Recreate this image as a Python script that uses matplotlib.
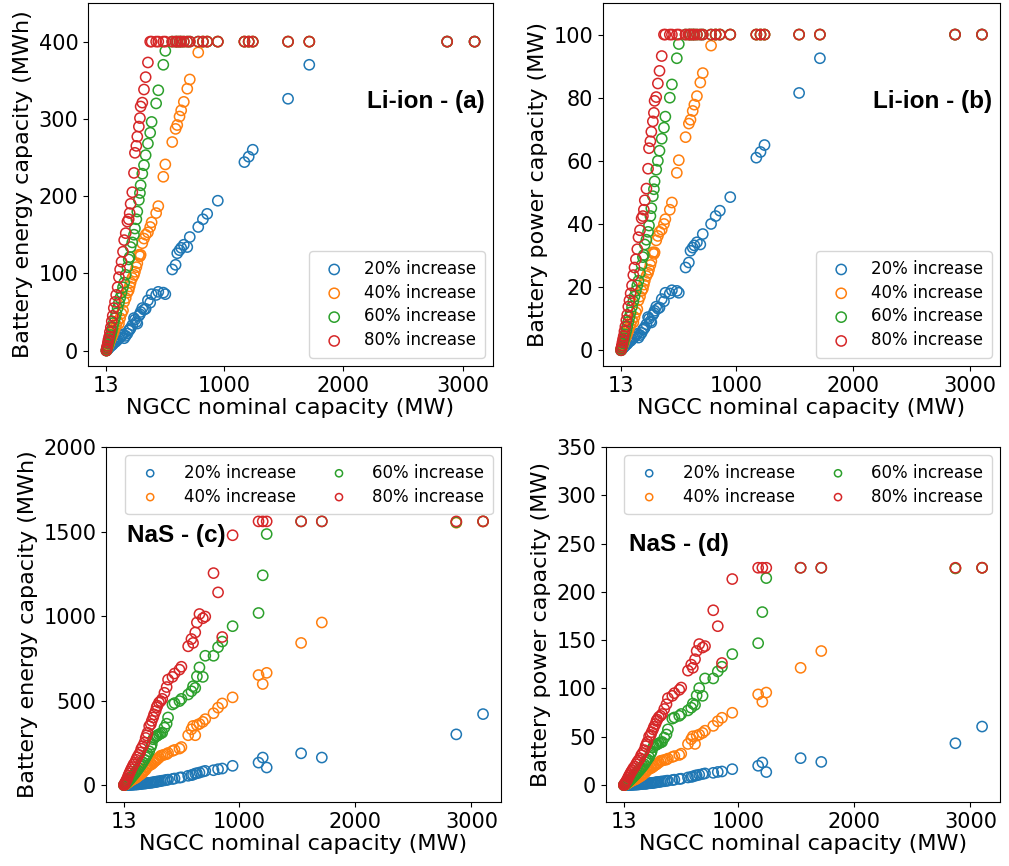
import matplotlib
matplotlib.use("Agg")
import matplotlib.pyplot as plt

# NGCC nominal capacity (MW) shared by all series
ngcc = [13, 16, 20, 25, 30, 36, 42, 50, 58, 66,
        75, 85, 95, 107, 118, 128, 140, 152, 162, 175,
        189, 200, 208, 216, 230, 244, 252, 264, 272, 285,
        294, 300, 314, 328, 342, 361, 380, 392, 430, 448,
        490, 507, 565, 593, 607, 626, 640, 662, 691, 712,
        783, 822, 858, 947, 1170, 1206, 1240, 1536, 1714, 2870,
        3100]

labels = ["20% increase", "40% increase", "60% increase", "80% increase"]
colors = ["#1f77b4", "#ff7f0e", "#2ca02c", "#d62728"]

# (a) Li-ion energy (MWh)
li_e_20 = [0, 1, 1, 2, 3, 4, 5, 6, 7, 8,
           10, 11, 12, 14, 16, 17, 19, 21, 16, 19,
           22, 26, 27, 29, 33, 42, 40, 37, 35, 45,
           47, 50, 55, 53, 54, 65, 62, 73, 72, 76,
           75, 73, 105, 111, 126, 130, 133, 137, 134, 147,
           160, 170, 177, 194, 244, 251, 260, 326, 370, 400,
           400]
li_e_40 = [0, 2, 3, 5, 7, 9, 12, 15, 18, 21,
           25, 29, 33, 38, 35, 42, 48, 52, 63, 68,
           75, 78, 83, 88, 94, 98, 102, 108, 113, 124,
           122, 124, 139, 145, 150, 153, 160, 166, 178, 187,
           225, 241, 270, 287, 292, 303, 311, 322, 339, 351,
           386, 400, 400, 400, 400, 400, 400, 400, 400, 400,
           400]
li_e_60 = [0, 2, 4, 6, 9, 12, 15, 20, 25, 30,
           36, 42, 48, 55, 62, 68, 75, 82, 88, 98,
           108, 118, 121, 134, 140, 150, 158, 170, 180, 195,
           204, 214, 229, 240, 253, 268, 282, 296, 320, 337,
           370, 388, 400, 400, 400, 400, 400, 400, 400, 400,
           400, 400, 400, 400, 400, 400, 400, 400, 400, 400,
           400]
li_e_80 = [0, 3, 6, 10, 14, 18, 24, 30, 38, 45,
           55, 63, 72, 82, 95, 105, 115, 128, 143, 152,
           167, 170, 178, 190, 205, 230, 256, 265, 277, 290,
           301, 316, 321, 338, 354, 373, 400, 400, 400, 400,
           400, 400, 400, 400, 400, 400, 400, 400, 400, 400,
           400, 400, 400, 400, 400, 400, 400, 400, 400, 400,
           400]

# (b) Li-ion power (MW)
li_p_20 = [0, 0.2, 0.3, 0.5, 0.8, 1, 1.2, 1.5, 1.8, 2,
           2.5, 2.8, 3, 3.5, 4, 4.2, 4.8, 5.2, 4, 4.8,
           5.5, 6.5, 6.8, 7.2, 8.2, 10.5, 10, 9.2, 8.8, 11.2,
           11.8, 12.5, 13.8, 13.2, 13.5, 16.2, 15.5, 18.2, 18, 19,
           18.8, 18.2, 26.2, 27.8, 31.5, 32.5, 33.2, 34.2, 33.5, 36.8,
           40, 42.5, 44.2, 48.5, 61, 62.8, 65, 81.5, 92.5, 100,
           100]
li_p_40 = [0, 0.5, 0.8, 1.2, 1.8, 2.2, 3, 3.8, 4.5, 5.2,
           6.2, 7.2, 8.2, 9.5, 8.8, 10.5, 12, 13, 15.8, 17,
           18.8, 19.5, 20.8, 22, 23.5, 24.5, 25.5, 27, 28.2, 31,
           30.5, 31, 34.8, 36.2, 37.5, 38.2, 40, 41.5, 44.5, 46.8,
           56.2, 60.2, 67.5, 71.8, 73, 75.8, 77.8, 80.5, 84.8, 87.8,
           96.5, 100, 100, 100, 100, 100, 100, 100, 100, 100,
           100]
li_p_60 = [0, 0.5, 1, 1.5, 2.2, 3, 3.8, 5, 6.2, 7.5,
           9, 10.5, 12, 13.8, 15.5, 17, 18.8, 20.5, 22, 24.5,
           27, 29.5, 30.2, 33.5, 35, 37.5, 39.5, 42.5, 45, 48.8,
           51, 53.5, 57.2, 60, 63.2, 67, 70.5, 74, 80, 84.2,
           92.5, 97, 100, 100, 100, 100, 100, 100, 100, 100,
           100, 100, 100, 100, 100, 100, 100, 100, 100, 100,
           100]
li_p_80 = [0, 0.8, 1.5, 2.5, 3.5, 4.5, 6, 7.5, 9.5, 11.2,
           13.8, 15.8, 18, 20.5, 23.8, 26.2, 28.8, 32, 35.8, 38,
           41.8, 42.5, 44.5, 47.5, 51.2, 57.5, 64, 66.2, 69.2, 72.5,
           75.2, 79, 80.2, 84.5, 88.5, 93.2, 100, 100, 100, 100,
           100, 100, 100, 100, 100, 100, 100, 100, 100, 100,
           100, 100, 100, 100, 100, 100, 100, 100, 100, 100,
           100]

# (c) NaS energy (MWh)
nas_e_20 = [0, 0, 0, 0, 0, 0, 1, 1, 1, 2,
            2, 2, 3, 3, 4, 4, 5, 6, 7, 8,
            9, 10, 11, 12, 13, 14, 15, 16, 17, 19,
            20, 21, 22, 24, 26, 28, 31, 32, 36, 39,
            44, 46, 55, 59, 62, 68, 70, 74, 80, 84,
            88, 94, 98, 114, 133, 163, 104, 188, 163, 300,
            420]
nas_e_40 = [0, 1, 2, 4, 6, 9, 12, 16, 20, 24,
            28, 32, 36, 40, 44, 50, 56, 62, 68, 74,
            85, 92, 104, 108, 116, 122, 124, 132, 138, 145,
            150, 155, 162, 173, 176, 180, 183, 190, 202, 208,
            216, 225, 295, 330, 350, 295, 355, 362, 374, 390,
            425, 458, 483, 519, 651, 598, 664, 841, 962, 1552,
            1560]
nas_e_60 = [0, 2, 4, 7, 10, 14, 18, 24, 30, 36,
            44, 52, 60, 70, 80, 90, 100, 112, 122, 135,
            150, 165, 175, 185, 200, 225, 241, 271, 280, 288,
            290, 294, 300, 305, 310, 340, 363, 400, 477, 485,
            497, 510, 536, 555, 585, 575, 643, 696, 640, 765,
            765, 816, 849, 940, 1018, 1241, 1485, 1560, 1560, 1555,
            1560]
nas_e_80 = [0, 3, 8, 15, 22, 30, 40, 55, 68, 80,
            94, 107, 122, 133, 150, 165, 179, 193, 215, 230,
            251, 279, 294, 310, 349, 360, 380, 400, 418, 438,
            460, 470, 488, 497, 510, 546, 580, 624, 640, 660,
            683, 700, 821, 864, 841, 903, 962, 1012, 987, 997,
            1254, 1140, 876, 1478, 1560, 1560, 1560, 1560, 1560, 1560,
            1560]

# (d) NaS power (MW)
nas_p_20 = [0, 0, 0, 0, 0, 0, 0.1, 0.1, 0.1, 0.3,
            0.3, 0.3, 0.4, 0.4, 0.6, 0.6, 0.7, 0.9, 1.0, 1.2,
            1.3, 1.4, 1.6, 1.7, 1.9, 2.0, 2.2, 2.3, 2.5, 2.7,
            2.9, 3.0, 3.2, 3.5, 3.8, 4.0, 4.5, 4.6, 5.2, 5.6,
            6.3, 6.6, 7.9, 8.5, 8.9, 9.8, 10.1, 10.7, 11.5, 12.1,
            12.7, 13.6, 14.1, 16.5, 20.0, 23.4, 13.5, 27.9, 24.0, 43.3,
            60.6]
nas_p_40 = [0, 0.1, 0.3, 0.6, 0.9, 1.3, 1.7, 2.3, 2.9, 3.5,
            4.0, 4.6, 5.2, 5.8, 6.3, 7.2, 8.1, 8.9, 9.8, 10.7,
            12.3, 13.3, 15.0, 15.6, 16.7, 17.6, 17.9, 19.0, 19.9, 20.9,
            21.6, 22.4, 23.4, 25.0, 25.4, 26.0, 26.4, 27.4, 29.1, 30.0,
            31.2, 32.5, 42.6, 47.6, 50.5, 42.6, 51.2, 52.2, 54.0, 56.3,
            61.3, 66.1, 69.7, 74.9, 93.9, 86.3, 95.8, 121.4, 138.8, 224.4,
            225]
nas_p_60 = [0, 0.3, 0.6, 1.0, 1.4, 2.0, 2.6, 3.5, 4.3, 5.2,
            6.3, 7.5, 8.7, 10.1, 11.5, 13.0, 14.4, 16.2, 17.6, 19.5,
            21.6, 23.8, 25.3, 26.7, 28.9, 32.5, 34.8, 39.1, 40.4, 41.6,
            41.8, 42.4, 43.3, 44.0, 44.7, 49.1, 52.4, 57.7, 68.8, 70.0,
            71.7, 73.6, 77.3, 80.1, 84.4, 83.0, 92.8, 100.4, 92.4, 110.4,
            110.4, 117.7, 122.5, 135.6, 146.9, 179.1, 214.3, 225, 225, 224.4,
            225]
nas_p_80 = [0, 0.4, 1.2, 2.2, 3.2, 4.3, 5.8, 7.9, 9.8, 11.5,
            13.6, 15.4, 17.6, 19.2, 21.6, 23.8, 25.8, 27.8, 31.0, 33.2,
            36.2, 40.3, 42.4, 44.7, 50.4, 51.9, 54.8, 57.7, 60.3, 63.2,
            66.4, 67.8, 70.4, 71.7, 73.6, 78.8, 83.7, 90.0, 92.4, 95.2,
            98.6, 101.0, 118.5, 124.7, 121.4, 130.3, 138.8, 146.0, 142.4, 143.9,
            181.0, 164.5, 126.4, 213.3, 225, 225, 225, 225, 225, 225,
            225]

xticks = [13, 1000, 2000, 3000]

W, H = 1009, 866
fig = plt.figure(figsize=(W / 100, H / 100), dpi=100)


def rect(l, r, t, b):
    return [l / W, 1 - b / H, (r - l) / W, (b - t) / H]


panels = [
    dict(rect=rect(88, 493, 3, 366), series=[li_e_20, li_e_40, li_e_60, li_e_80],
         ylabel="Battery energy capacity (MWh)", ylim=(-20, 450),
         yticks=[0, 100, 200, 300, 400], title="Li-ion - (a)", tpos=(0.98, 0.73), tha="right",
         leg="lr"),
    dict(rect=rect(603, 1000, 3, 366), series=[li_p_20, li_p_40, li_p_60, li_p_80],
         ylabel="Battery power capacity (MW)", ylim=(-5, 110),
         yticks=[0, 20, 40, 60, 80, 100], title="Li-ion - (b)", tpos=(0.98, 0.73), tha="right",
         leg="lr"),
    dict(rect=rect(106, 501, 447, 802), series=[nas_e_20, nas_e_40, nas_e_60, nas_e_80],
         ylabel="Battery energy capacity (MWh)", ylim=(-100, 2000),
         yticks=[0, 500, 1000, 1500, 2000], title="NaS - (c)", tpos=(0.052, 0.75), tha="left",
         leg="ur"),
    dict(rect=rect(606, 1000, 447, 802), series=[nas_p_20, nas_p_40, nas_p_60, nas_p_80],
         ylabel="Battery power capacity (MW)", ylim=(-17.5, 350),
         yticks=[0, 50, 100, 150, 200, 250, 300, 350], title="NaS - (d)", tpos=(0.058, 0.725), tha="left",
         leg="ur"),
]

for p in panels:
    ax = fig.add_axes(p["rect"])
    for ys, lab, c in zip(p["series"], labels, colors):
        ax.scatter(ngcc, ys, s=54, facecolors="none", edgecolors=c, linewidths=1.1, label=lab)
    ax.set_xticks(xticks)
    ax.set_xticklabels([str(v) for v in xticks])
    ax.set_yticks(p["yticks"])
    ax.set_ylim(*p["ylim"])
    ax.tick_params(labelsize=15)
    ax.set_xlabel("NGCC nominal capacity (MW)", fontsize=16, labelpad=2)
    ax.set_ylabel(p["ylabel"], fontsize=16, labelpad=4)
    ax.text(p["tpos"][0], p["tpos"][1], p["title"], transform=ax.transAxes,
            ha=p["tha"], va="center", fontsize=17.5, fontweight="bold",
            family=["Liberation Sans", "DejaVu Sans"])
    if p["leg"] == "lr":
        ax.legend(loc="lower right", fontsize=12, labelspacing=0.35, handletextpad=0.8,
                  borderpad=0.5, markerscale=1.0)
    else:
        ax.legend(loc="upper right", fontsize=12, ncol=2, labelspacing=0.35,
                  handletextpad=1.0, columnspacing=1.6, markerscale=0.7, borderpad=0.5)

fig.savefig("out.png", dpi=100)
